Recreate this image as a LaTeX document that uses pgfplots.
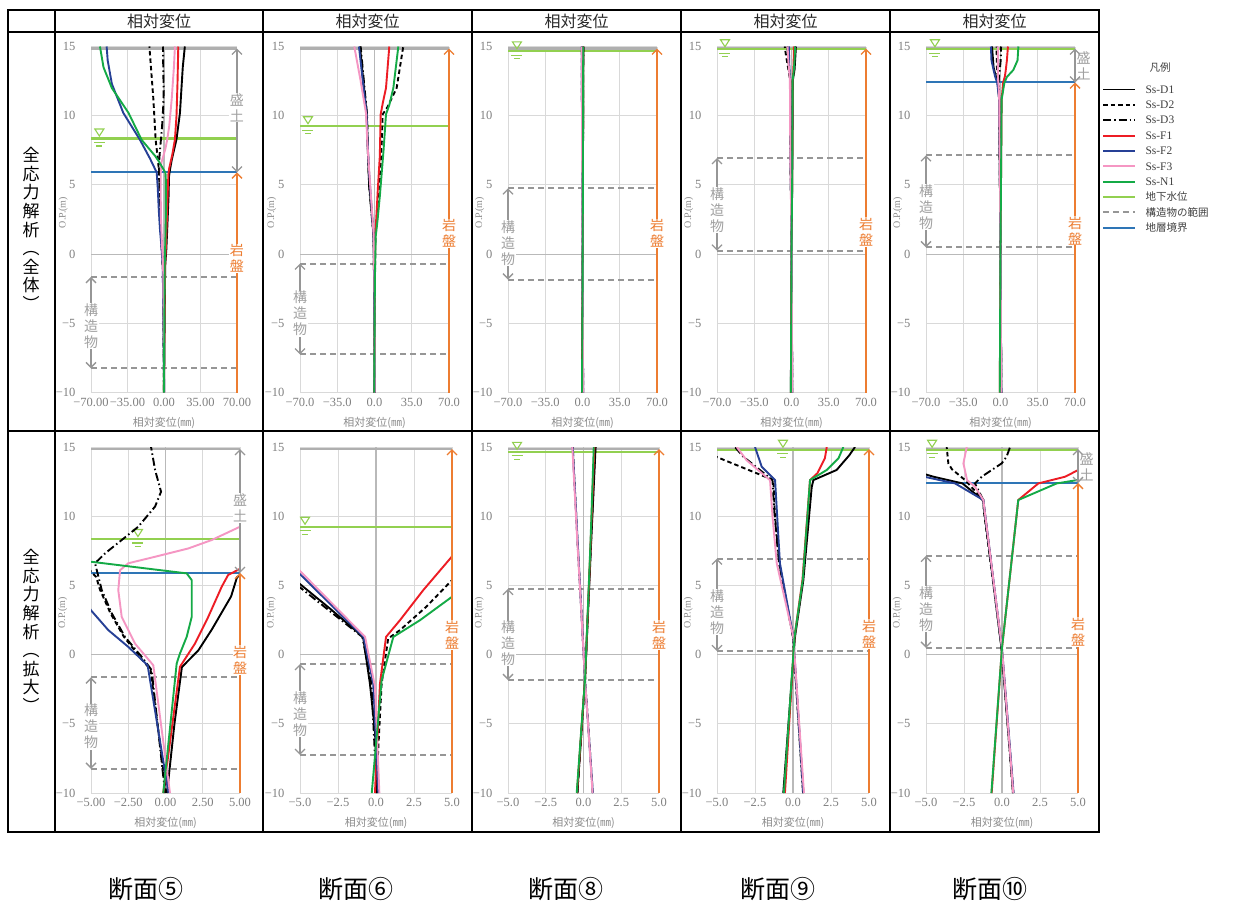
\documentclass[border=0pt]{standalone}
\usepackage{fontspec}
\usepackage{pgfplots}
\pgfplotsset{compat=1.18}
\usepackage{pgfplotstable}
\usetikzlibrary{arrows.meta}
\setmainfont{Noto Sans CJK JP}
\newfontfamily\numf{Liberation Serif}

\definecolor{gridc}{RGB}{217,217,217}
\definecolor{axc}{RGB}{185,185,185}
\definecolor{topg}{RGB}{175,175,175}
\definecolor{tickc}{RGB}{128,128,128}
\definecolor{labc}{RGB}{140,140,140}
\definecolor{strc}{RGB}{150,150,150}
\definecolor{glabc}{RGB}{160,160,160}
\definecolor{garrc}{RGB}{150,150,150}
\definecolor{orc}{RGB}{237,125,49}
\definecolor{watc}{RGB}{146,208,80}
\definecolor{layc}{RGB}{46,117,182}
\definecolor{redc}{RGB}{237,28,36}
\definecolor{bluec}{RGB}{38,64,150}
\definecolor{pinkc}{RGB}{245,150,195}
\definecolor{greenc}{RGB}{20,170,70}
\definecolor{hdc}{RGB}{40,40,40}
\definecolor{legc}{RGB}{64,64,64}

\newcommand{\tickf}{\numf\fontsize{12.5}{14}\selectfont}

\tikzset{
 sD1/.style={draw=black, line width=1.9pt, line join=round},
 sD2/.style={draw=black, line width=1.9pt, dash pattern=on 4.5pt off 3pt},
 sD3/.style={draw=black, line width=1.9pt, dash pattern=on 8pt off 3pt on 1.5pt off 3pt},
 sF1/.style={draw=redc, line width=1.9pt, line join=round},
 sF2/.style={draw=bluec, line width=1.9pt, line join=round},
 sF3/.style={draw=pinkc, line width=1.9pt, line join=round},
 sN1/.style={draw=greenc, line width=1.9pt, line join=round},
 wline/.style={draw=watc, line width=2.2pt},
 sline/.style={draw=strc, line width=2pt, dash pattern=on 6pt off 4pt},
 lline/.style={draw=layc, line width=2pt},
 aline/.style={draw=axc, line width=1.1pt},
 tline/.style={draw=topg, line width=2.2pt},
 garr/.style={draw=garrc, line width=1.3pt, {Straight Barb[length=5pt,width=10pt]}-{Straight Barb[length=5pt,width=10pt]}},
 oarr/.style={draw=orc, line width=1.3pt, -{Straight Barb[length=5pt,width=10pt]}},
 glab/.style={fill=white, inner sep=0.5pt, align=center, text=glabc, font=\fontsize{14}{16}\selectfont},
 olab/.style={fill=white, inner sep=0.5pt, align=center, text=orc, font=\fontsize{14}{16}\selectfont},
}

\pgfplotsset{
 base/.style={
  scale only axis, height=346pt,
  ymin=-10, ymax=15, ytick={-10,-5,0,5,10,15},
  yticklabels={−10,−5,0,5,10,15},
  grid=major, major grid style={draw=gridc, line width=1pt},
  axis line style={draw=none}, major tick length=0pt,
  clip mode=individual,
  ticklabel style={font=\tickf, text=tickc},
  yticklabel style={anchor=east, xshift=-12pt},
  xticklabel style={anchor=north, yshift=-2pt},
  ylabel={O.P.(m)},
  ylabel style={font=\numf\fontsize{10}{12}\selectfont, text=labc, at={(axis description cs:-0.19,0.52)}, anchor=center},
  xlabel={相対変位(㎜)},
  xlabel style={font=\fontsize{11}{13}\selectfont, text=labc, at={(axis description cs:0.5,-0.087)}, anchor=center},
 },
 toprow/.style={base, xmin=-70, xmax=70, xtick={-70,-35,0,35,70},
   xticklabels={−70.0,−35.0,0.0,35.0,70.0}},
 botrow/.style={base, xmin=-5, xmax=5, xtick={-5,-2.5,0,2.5,5},
   xticklabels={−5.0,−2.5,0.0,2.5,5.0}},
}

% helper drawing commands (inside axis, axis coordinates)
\newcommand{\bgl}[1]{%
  \draw[aline] (axis cs:0,-10) -- (axis cs:0,15);
  \draw[aline] (axis cs:-#1,0) -- (axis cs:#1,0);
  \draw[tline] (axis cs:-#1,14.85) -- (axis cs:#1,14.85);}
\newcommand{\strl}[3]{%
  \draw[sline] (axis cs:-#1,#2) -- (axis cs:#1,#2);
  \draw[sline] (axis cs:-#1,#3) -- (axis cs:#1,#3);}
\newcommand{\stra}[4]{%
  \draw[garr] (axis cs:-#1,#2) -- (axis cs:-#1,#3);
  \node[glab] at (axis cs:-#1,#4) {構\\造\\物};}
\newcommand{\wat}[3]{%
  \draw[wline] (axis cs:-#1,#2) -- (axis cs:#1,#2);
  \draw[draw=watc, line width=1.1pt] (axis cs:#3,#2) ++(-4.5pt,9.5pt) -- ++(9pt,0pt) -- ++(-4.5pt,-7pt) -- cycle;
  \draw[draw=watc, line width=1.1pt] (axis cs:#3,#2) ++(-5.5pt,-4pt) -- ++(11pt,0pt);
  \draw[draw=watc, line width=1.1pt] (axis cs:#3,#2) ++(-3pt,-7.5pt) -- ++(6pt,0pt);}
\newcommand{\lay}[2]{\draw[lline] (axis cs:-#1,#2) -- (axis cs:#1,#2);}
\newcommand{\rock}[3]{%
  \draw[oarr] (axis cs:#1,-10) -- (axis cs:#1,#2);
  \node[olab] at (axis cs:#1,#3) {岩\\盤};}
\newcommand{\emb}[3]{%
  \draw[garr] (axis cs:#1,14.85) -- (axis cs:#1,#2);
  \node[glab] at (axis cs:#1,#3) {盛\\土};}
\newcommand{\embo}[3]{%
  \draw[garr] (axis cs:#1,14.85) -- (axis cs:#1,#2);
  \node[glab, fill=none, anchor=west, xshift=1pt] at (axis cs:#1,#3) {盛\\土};}

%================ DATA (x = relative displacement mm, y = O.P. m) ================
% Section 5
\pgfplotstableread{
x y
0.1 -10
0.6 -5
1.1 -0.9
2.2 0.3
3.1 1.8
4.4 4.2
4.8 5.6
5.4 5.95
7.4 6.8
12 8.3
15.3 10.2
18 13.5
20 15
}\fiveDa
\pgfplotstableread{
x y
0.05 -10
-1.0 -1.1
-1.7 -0.2
-2.8 1.3
-3.7 3.0
-4.4 4.7
-4.65 5.6
-5.5 6.6
-8 8.25
-10.2 11.2
-12 13
-14 15
}\fiveDb
\pgfplotstableread{
x y
-0.03 -10
-0.93 -1.12
-1.6 -0.16
-2.72 1.28
-3.6 2.97
-4.28 4.66
-4.5 5.62
-4.73 6.6
-4.06 7.31
-2.94 8.28
-1.83 9.24
-0.7 10.7
-0.3 11.77
-0.7 13.34
-0.97 15
}\fiveDc
\pgfplotstableread{
x y
-0.15 -10
0.97 -0.88
1.98 0.8
2.87 2.73
3.77 4.9
4.2 5.75
5 6.2
8 7.2
10.5 8.3
12 10
13 12.5
13.7 15
}\fiveFa
\pgfplotstableread{
x y
0.2 -10
-1.2 -0.77
-2.5 0.56
-3.84 1.77
-5 3.2
-6 4.8
-7 5.9
-13.4 6.9
-23 8.25
-39 10.2
-50 12.3
-54 14
-55 15
}\fiveFb
\pgfplotstableread{
x y
0.3 -10
-0.82 -0.77
-2.05 0.8
-2.94 2.73
-3.17 4.66
-3.05 6.1
-2.5 6.6
-0.7 7.07
1.53 7.67
3.1 8.28
5 9.24
7.4 11.2
9.5 13.5
10.5 15
}\fiveFc
\pgfplotstableread{
x y
-0.15 -10
0.75 -0.64
0.97 0.08
1.42 1.28
1.76 2.73
1.76 5.38
1.42 5.87
-5 6.71
-8.6 7.1
-21.4 8.25
-34 10.2
-50 12
-58 13.5
-61.4 15
}\fiveNa
% Section 6
\pgfplotstableread{
x y
0.1 -10
-0.07 -5.5
-0.4 -2.1
-0.85 1.28
-3.0 3.3
-5.05 5.14
-6.3 7.5
-7.3 10.1
-10.5 12.5
-13.6 15
}\sixDa
\pgfplotstableread{
x y
0.0 -10
0.37 -2.1
0.8 1.16
1.58 1.77
3.3 3.45
5.0 5.38
6.8 8
7.7 10.1
12 10.6
20.8 12
27 15
}\sixDb
\pgfplotstableread{
x y
0.05 -10
-0.3 -2.1
-0.9 1.28
-5.05 4.9
-6.2 7.5
-7.0 10.1
-10 12.5
-13 15
}\sixDc
\pgfplotstableread{
x y
-0.07 -10
0.26 -2.1
0.66 1.28
1.58 2.49
3.11 4.66
4.98 7.07
5.8 10.1
8 11
10.8 12
13.9 15
}\sixFa
\pgfplotstableread{
x y
0.15 -10
-0.18 -2.1
-0.83 1.28
-5.05 5.87
-6.5 8
-7.5 10.2
-11 12.5
-14.6 15
}\sixFb
\pgfplotstableread{
x y
0.22 -10
-0.07 -2.3
-0.72 1.28
-5.05 6.1
-6.7 8
-8 10.2
-13 12.5
-19 15
}\sixFc
\pgfplotstableread{
x y
-0.28 -10
0.37 -1.85
1.14 1.28
2.9 2.49
5.0 4.18
8.5 7.5
10.8 10.1
14 10.8
17.7 12
22.4 15
}\sixNa
% Section 8
\pgfplotstableread{
x y
-0.41 -10
-0.1 -5
0.1 -1.85
0.37 4.75
0.5 8
0.8 15
}\eightDa
\pgfplotstableread{
x y
0.61 -10
0.31 -5
0.1 -1.85
-0.22 4.75
-0.39 8
-0.71 15
}\eightDb
\pgfplotstableread{
x y
-0.4 -10
-0.1 -5
0.1 -1.85
0.36 4.75
0.49 8
0.78 15
}\eightDc
\pgfplotstableread{
x y
-0.43 -10
-0.11 -5
0.1 -1.85
0.35 4.75
0.47 8
0.72 15
}\eightFa
\pgfplotstableread{
x y
0.62 -10
0.3 -5
0.1 -1.85
-0.22 4.75
-0.38 8
-0.72 15
}\eightFb
\pgfplotstableread{
x y
0.6 -10
0.3 -5
0.1 -1.85
-0.23 4.75
-0.4 8
-0.74 15
}\eightFc
\pgfplotstableread{
x y
-0.45 -10
-0.12 -5
0.1 -1.85
0.34 4.75
0.46 8
0.68 15
}\eightNa
% Section 9
\pgfplotstableread{
x y
-0.64 -10
0.13 1.28
0.68 5.38
1.23 12.1
1.34 12.61
2.87 13.34
3.7 14.4
4.08 15
}\nineDa
\pgfplotstableread{
x y
0.68 -10
0.0 1.28
-0.9 6.6
-1.2 10.2
-1.29 12.61
-5.07 14.3
-6.4 15
}\nineDb
\pgfplotstableread{
x y
0.66 -10
0.0 1.28
-0.92 6.6
-1.22 10.2
-1.35 12.61
-3.27 14.3
-3.82 15
}\nineDc
\pgfplotstableread{
x y
-0.53 -10
0.1 1.28
0.62 5.38
1.12 12.61
1.6 13.1
2.1 14.2
2.22 15
}\nineFa
\pgfplotstableread{
x y
0.68 -10
0.02 1.28
-0.86 6.6
-1.18 12.61
-2.06 13.58
-2.5 15
}\nineFb
\pgfplotstableread{
x y
0.72 -10
0.02 1.28
-1.07 6.6
-1.35 10
-1.51 12.6
-3.05 14.04
-3.7 15
}\nineFc
\pgfplotstableread{
x y
-0.6 -10
0.1 1.28
0.64 5.38
1.12 12.61
2.22 13.34
3.0 14.2
3.31 15
}\nineNa
% Section 10
\pgfplotstableread{
x y
0.74 -10
-0.03 0.44
-1.22 11.0
-1.3 11.2
-2.6 12.37
-4.5 12.85
-6.5 13.5
-8 15
}\tenDa
\pgfplotstableread{
x y
0.74 -10
-0.02 0.44
-1.2 10.4
-1.23 11.17
-2.43 12.61
-3.3 13.4
-3.53 13.82
-3.64 15
}\tenDb
\pgfplotstableread{
x y
0.72 -10
-0.02 0.44
-1.2 10.8
-1.23 11.17
-1.78 12.37
-1.34 12.85
-0.02 13.82
0.3 14.3
0.53 15
}\tenDc
\pgfplotstableread{
x y
-0.68 -10
0.0 0.5
1.07 11.17
2.39 12.37
4.14 12.85
5.02 13.34
6 14
7 15
}\tenFa
\pgfplotstableread{
x y
0.76 -10
0.0 0.44
-1.21 11.0
-1.23 11.17
-3.09 12.37
-5.1 12.85
-6.5 13.3
-8.5 14
-9 15
}\tenFb
\pgfplotstableread{
x y
0.74 -10
0.0 0.44
-1.2 10.9
-1.23 11.17
-1.78 12.13
-2.3 12.61
-2.54 13.82
-2.32 15
}\tenFc
\pgfplotstableread{
x y
-0.7 -10
0.0 0.5
1.07 11.17
3.6 12.37
6 12.8
12 13.3
16 14
16.8 15
}\tenNa

\newcommand{\plotall}[7]{%
  \addplot[sD1] table[x=x,y=y] {#1};
  \addplot[sD2] table[x=x,y=y] {#2};
  \addplot[sD3] table[x=x,y=y] {#3};
  \addplot[sF1] table[x=x,y=y] {#4};
  \addplot[sF2] table[x=x,y=y] {#5};
  \addplot[sF3] table[x=x,y=y] {#6};
  \addplot[sN1] table[x=x,y=y] {#7};}

\begin{document}
\begin{tikzpicture}[x=1pt,y=1pt]
\useasboundingbox (0,0) rectangle (1233,-907);
\fill[white] (0,0) rectangle (1233,-907);

% ---------- table frame ----------
\draw[line width=1.3pt] (8,-10) rectangle (1099,-832);
\draw[line width=2.2pt] (8,-32) -- (1099,-32);
\draw[line width=1.3pt] (8,-431) -- (1099,-431);
\foreach \cx in {55,263,472,681,890} \draw[line width=1.3pt] (\cx,-10) -- (\cx,-832);
\foreach \cx in {159,367.5,576.5,785.5,994.5}
  \node[text=hdc, font=\fontsize{16}{18}\selectfont] at (\cx,-21) {相対変位};
\node[align=center, font=\fontsize{17}{18.6}\selectfont] at (31,-229) {全\\応\\力\\解\\析\\︵\\全\\体\\︶};
\node[align=center, font=\fontsize{17}{18.6}\selectfont] at (31,-631) {全\\応\\力\\解\\析\\︵\\拡\\大\\︶};

% ================= TOP ROW =================
\begin{axis}[toprow, width=146pt, at={(91pt,-392.5pt)}, anchor=south west,
  xticklabels={−70.00,−35.00,0.00,35.00,70.00}]
 \bgl{70} \strl{70}{-1.65}{-8.25} \wat{70}{8.35}{-62} \lay{70}{5.9}
 \plotall{\fiveDa}{\fiveDb}{\fiveDc}{\fiveFa}{\fiveFb}{\fiveFc}{\fiveNa}
 \stra{70}{-1.65}{-8.25}{-5.2} \rock{70}{5.9}{-0.3} \emb{70}{5.9}{10.6}
\end{axis}
\begin{axis}[toprow, width=149pt, at={(300pt,-392.5pt)}, anchor=south west]
 \bgl{70} \strl{70}{-0.68}{-7.25} \wat{70}{9.24}{-62.5}
 \plotall{\sixDa}{\sixDb}{\sixDc}{\sixFa}{\sixFb}{\sixFc}{\sixNa}
 \stra{70}{-0.68}{-7.25}{-4.3} \rock{70}{14.85}{1.5}
\end{axis}
\begin{axis}[toprow, width=149pt, at={(508pt,-392.5pt)}, anchor=south west]
 \bgl{70} \strl{70}{4.75}{-1.84} \wat{70}{14.65}{-61.6}
 \plotall{\eightDa}{\eightDb}{\eightDc}{\eightFa}{\eightFb}{\eightFc}{\eightNa}
 \stra{70}{4.75}{-1.84}{0.8} \rock{70}{14.85}{1.5}
\end{axis}
\begin{axis}[toprow, width=149pt, at={(717pt,-392.5pt)}, anchor=south west]
 \bgl{70} \strl{70}{6.94}{0.25} \wat{70}{14.8}{-62.5}
 \plotall{\nineDa}{\nineDb}{\nineDc}{\nineFa}{\nineFb}{\nineFc}{\nineNa}
 \stra{70}{6.94}{0.25}{3.2} \rock{70}{14.85}{1.6}
\end{axis}
\begin{axis}[toprow, width=149pt, at={(926pt,-392.5pt)}, anchor=south west]
 \bgl{70} \strl{70}{7.14}{0.49} \wat{70}{14.8}{-61.6} \lay{70}{12.4}
 \plotall{\tenDa}{\tenDb}{\tenDc}{\tenFa}{\tenFb}{\tenFc}{\tenNa}
 \stra{70}{7.14}{0.49}{3.4} \rock{70}{12.4}{1.7} \embo{70}{12.4}{13.6}
\end{axis}

% ================= BOTTOM ROW =================
\begin{axis}[botrow, width=149pt, at={(91pt,-793pt)}, anchor=south west,
  xticklabels={−5.00,−2.50,0.00,2.50,5.00}]
 \bgl{5} \strl{5}{-1.65}{-8.25} \wat{5}{8.35}{-1.85} \lay{5}{5.9}
 \plotall{\fiveDa}{\fiveDb}{\fiveDc}{\fiveFa}{\fiveFb}{\fiveFc}{\fiveNa}
 \stra{5}{-1.65}{-8.25}{-5.2} \rock{5}{5.9}{-0.4} \emb{5}{5.9}{10.6}
\end{axis}
\begin{axis}[botrow, width=152pt, at={(300pt,-793pt)}, anchor=south west]
 \bgl{5} \strl{5}{-0.68}{-7.25} \wat{5}{9.24}{-4.67}
 \plotall{\sixDa}{\sixDb}{\sixDc}{\sixFa}{\sixFb}{\sixFc}{\sixNa}
 \stra{5}{-0.68}{-7.25}{-4.3} \rock{5}{14.85}{1.4}
\end{axis}
\begin{axis}[botrow, width=151pt, at={(508pt,-793pt)}, anchor=south west]
 \bgl{5} \strl{5}{4.75}{-1.84} \wat{5}{14.65}{-4.4}
 \plotall{\eightDa}{\eightDb}{\eightDc}{\eightFa}{\eightFb}{\eightFc}{\eightNa}
 \stra{5}{4.75}{-1.84}{0.8} \rock{5}{14.85}{1.4}
\end{axis}
\begin{axis}[botrow, width=152pt, at={(717pt,-793pt)}, anchor=south west]
 \bgl{5} \strl{5}{6.94}{0.25} \wat{5}{14.8}{-0.66}
 \plotall{\nineDa}{\nineDb}{\nineDc}{\nineFa}{\nineFb}{\nineFc}{\nineNa}
 \stra{5}{6.94}{0.25}{3.1} \rock{5}{14.85}{1.5}
\end{axis}
\begin{axis}[botrow, width=152pt, at={(926pt,-793pt)}, anchor=south west]
 \bgl{5} \strl{5}{7.14}{0.49} \wat{5}{14.8}{-4.6} \lay{5}{12.4}
 \plotall{\tenDa}{\tenDb}{\tenDc}{\tenFa}{\tenFb}{\tenFc}{\tenNa}
 \stra{5}{7.14}{0.49}{3.3} \rock{5}{12.4}{1.65} \embo{5}{12.4}{13.6}
\end{axis}

% ---------- section names ----------
\foreach \cx/\t in {146/断面⑤,356/断面⑥,566/断面⑧,778/断面⑨,990/断面⑩}
  \node[font=\fontsize{25}{28}\selectfont] at (\cx,-889) {\t};

% ---------- legend ----------
\node[text=legc, font=\fontsize{10.5}{12}\selectfont] at (1160,-68) {凡例};
\def\ly#1{-89.5-15.35*#1}
\draw[sD1] (1103,{\ly0}) -- (1135,{\ly0});
\draw[sD2] (1103,{\ly1}) -- (1135,{\ly1});
\draw[sD3] (1103,{\ly2}) -- (1135,{\ly2});
\draw[sF1] (1103,{\ly3}) -- (1135,{\ly3});
\draw[sF2] (1103,{\ly4}) -- (1135,{\ly4});
\draw[sF3] (1103,{\ly5}) -- (1135,{\ly5});
\draw[sN1] (1103,{\ly6}) -- (1135,{\ly6});
\draw[wline] (1103,{\ly7}) -- (1135,{\ly7});
\draw[sline] (1103,{\ly8}) -- (1135,{\ly8});
\draw[lline] (1103,{\ly9}) -- (1135,{\ly9});
\foreach \i/\t in {0/Ss-D1,1/Ss-D2,2/Ss-D3,3/Ss-F1,4/Ss-F2,5/Ss-F3,6/Ss-N1}
  \node[anchor=west, text=legc, font=\numf\fontsize{11.5}{13}\selectfont] at (1142,{\ly\i}) {\t};
\foreach \i/\t in {7/地下水位,8/構造物の範囲,9/地層境界}
  \node[anchor=west, text=legc, font=\fontsize{10.5}{12}\selectfont] at (1142,{\ly\i}) {\t};
\end{tikzpicture}
\end{document}
